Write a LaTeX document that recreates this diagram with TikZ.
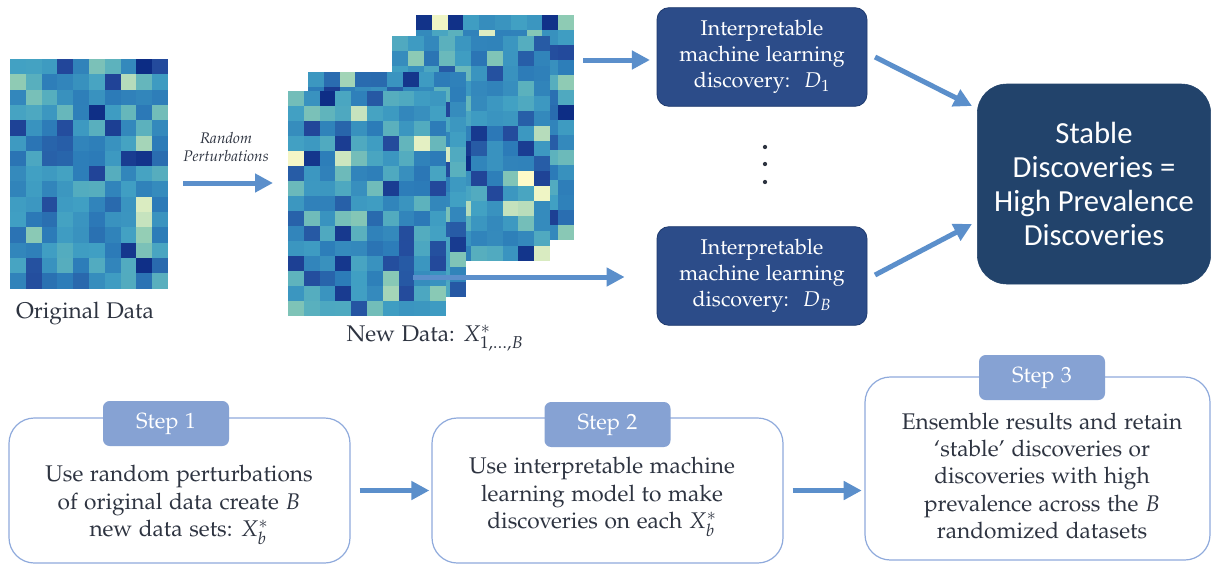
\documentclass[tikz,border=0pt]{standalone}
\usepackage[T1]{fontenc}
\usepackage{mathpazo}
\usepackage{fontspec}
\newfontfamily\calib{Carlito}
\usetikzlibrary{arrows.meta}
\newcommand\pal{\fontencoding{T1}\fontfamily{pplx}\selectfont}
\definecolor{arrowblue}{HTML}{5B8FCB}
\definecolor{dbox}{HTML}{2C4C89}
\definecolor{dboxedge}{HTML}{1E3A6E}
\definecolor{sbox}{HTML}{22436B}
\definecolor{steplab}{HTML}{86A2D3}
\definecolor{stepedge}{HTML}{8FAADC}
\definecolor{txt}{HTML}{2E3441}
\definecolor{hA}{HTML}{0C2C84}
\definecolor{hB}{HTML}{23479A}
\definecolor{hC}{HTML}{2C7BB8}
\definecolor{hD}{HTML}{41A0C3}
\definecolor{hE}{HTML}{5DB2BD}
\definecolor{hF}{HTML}{90CCB4}
\definecolor{hG}{HTML}{FFFBC8}
\newcommand\hmix[4]{\pgfmathtruncatemacro\hf{100*(\hr-#3)/(#4-#3)}\edef\hx{\noexpand\colorlet{cc}{#2!\hf!#1}}\hx}
\newcommand\heatcolor[1]{%
  \pgfmathsetmacro\hr{#1}%
  \ifdim\hr pt<0.05pt \hmix{hA}{hB}{0}{0.05}%
  \else\ifdim\hr pt<0.2pt \hmix{hB}{hC}{0.05}{0.2}%
  \else\ifdim\hr pt<0.65pt \hmix{hC}{hD}{0.2}{0.65}%
  \else\ifdim\hr pt<0.86pt \hmix{hD}{hE}{0.65}{0.86}%
  \else\ifdim\hr pt<0.95pt \hmix{hE}{hF}{0.86}{0.95}%
  \else \hmix{hF}{hG}{0.95}{1.0}%
  \fi\fi\fi\fi\fi}
\newcommand\heatmap[4]{%
  \pgfmathsetseed{#3}%
  \foreach \i in {0,...,9}{\foreach \j in {0,...,14}{%
    \pgfmathsetmacro\rr{rnd}\heatcolor{\rr}%
    \fill[cc] ({#1+\i*15.8},{#2+\j*#4}) rectangle ++(15.85,#4+0.05);
  }}}
\tikzset{
  bigarrow/.style={draw=arrowblue, line width=3.75pt, -{Triangle[length=13.5pt,width=13.5pt]}},
  dark/.style={fill=dbox, draw=dboxedge, line width=0.6pt, rounded corners=9pt,
    minimum width=157.5pt, minimum height=74pt, text=white, align=center,
    font=\pal\fontsize{16pt}{19.5pt}\selectfont},
  stable/.style={fill=sbox, draw=sbox, rounded corners=22pt,
    minimum width=175pt, minimum height=150pt, text=white, align=center,
    font=\calib\fontsize{23pt}{25.5pt}\selectfont},
  stepbox/.style={draw=stepedge, line width=0.9pt, fill=white, rounded corners=19pt},
  steplabel/.style={fill=steplab, rounded corners=5pt, minimum width=94.5pt,
    minimum height=33.75pt, text=white, font=\pal\fontsize{16.5pt}{19pt}\selectfont},
  steptext/.style={text=txt, align=center, font=\pal\fontsize{17pt}{20.4pt}\selectfont},
  label/.style={text=txt, font=\pal\fontsize{17pt}{20.4pt}\selectfont},
}
\begin{document}
\begin{tikzpicture}[x=0.75pt,y=-0.75pt]
\useasboundingbox (0,0) rectangle (1212,565);
\fill[white] (0,0) rectangle (1212,565);
% heatmaps
\heatmap{10}{59}{11}{15.3}
\heatmap{416}{15}{23}{15}
\heatmap{392}{36}{37}{15}
\heatmap{308}{72}{41}{15}
\heatmap{288}{91}{53}{15}
% labels
\node[label] (origlab) at (85,313) {Original Data};
\node[label] (newlab) at (435,338) {New Data: $X^*_{1,\dots,B}$};
\node[text=txt, align=center, font=\pal\itshape\fontsize{11.5pt}{14pt}\selectfont] (rp) at (226,147) {Random\\Perturbations};
\coordinate (pertA) at (183,183);
\coordinate (pertB) at (273,183);
\draw[bigarrow] (pertA) -- (pertB);
% discovery boxes
\node[dark] (d1) at (762,57) {Interpretable\\machine learning\\discovery:~ $D_1$};
\node[dark] (dB) at (762,276) {Interpretable\\machine learning\\discovery:~ $D_B$};
\node[stable] (st) at (1094,184) {Stable\\Discoveries =\\High Prevalence\\Discoveries};
\foreach \yy in {147,164,182} \fill[txt] (765,\yy) circle (1.6pt);
\coordinate (a1s) at (583,60);
\draw[bigarrow, shorten >=5pt] (a1s) -- (a1s -| d1.west);
\coordinate (a2s) at (413,277);
\draw[bigarrow, shorten >=24pt] (a2s) -- (a2s -| dB.west);
\coordinate (d1s) at (875,57);
\coordinate (d1e) at (972,106);
\draw[bigarrow] (d1s) -- (d1e);
\coordinate (dBs) at (875,275);
\coordinate (dBe) at (972,224);
\draw[bigarrow] (dBs) -- (dBe);
% steps
\node[stepbox, minimum width=255.75pt, minimum height=108.75pt] (s1box) at (179.5,490.5) {};
\node[steplabel] (s1lab) at (166,423.5) {Step 1};
\node[steptext] (t1) at (179,505) {Use random perturbations\\of original data create $B$\\new data sets: $X_b^*$};
\node[stepbox, minimum width=263.25pt, minimum height=108.75pt] (s2box) at (607.5,490.5) {};
\node[steplabel] (s2lab) at (607.5,424.5) {Step 2};
\node[steptext] (t2) at (602,497) {Use interpretable machine\\learning model to make\\discoveries on each $X_b^*$};
\node[stepbox, minimum width=258.75pt, minimum height=137.25pt] (s3box) at (1037.5,468.5) {};
\node[steplabel] (s3lab) at (1042,377.5) {Step 3};
\node[steptext] (t3) at (1042,476) {Ensemble results and retain\\`stable' discoveries or\\discoveries with high\\prevalence across the $B$\\randomized datasets};
\draw[bigarrow, shorten <=6.75pt, shorten >=1.5pt] (s1box.east) -- (s2box.west);
\draw[bigarrow, shorten <=6.75pt, shorten >=2pt] (s2box.east) -- (s2box.east -| s3box.west);
\end{tikzpicture}
\end{document}
